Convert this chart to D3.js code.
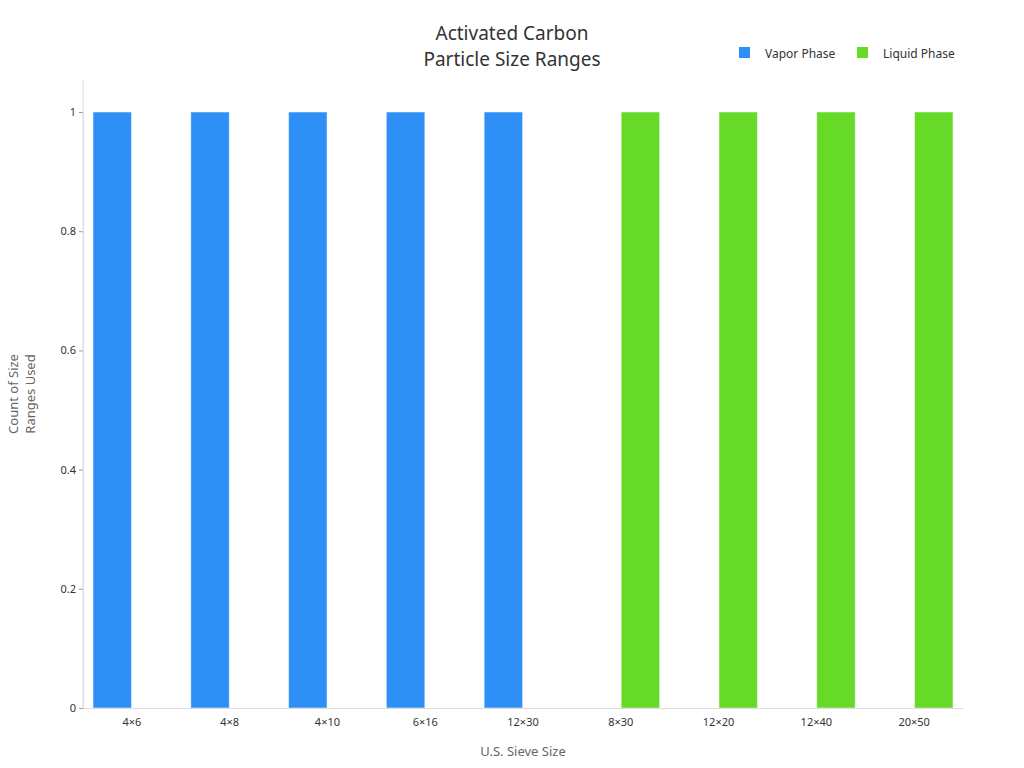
<!DOCTYPE html><html><head><meta charset="utf-8"><script src="https://cdn.jsdelivr.net/npm/d3@7"></script>
<style>body{margin:0;background:#fff;font-family:"Noto Sans","DejaVu Sans",sans-serif}</style></head><body><svg width="1024" height="768"></svg><script>
const categories=["4×6","4×8","4×10","6×16","12×30","8×30","12×20","12×40","20×50"];
const seriesNames=["Vapor Phase","Liquid Phase"];
const vapor=[1,1,1,1,1,0,0,0,0];
const liquid=[0,0,0,0,0,1,1,1,1];
const colors=["#2e90f7","#66da26"];
const yTicks=[0,0.2,0.4,0.6,0.8,1];
const svg=d3.select("svg");
const L=83,R=963,T=112,B=708;
const x=d3.scaleBand().domain(categories).range([L,R]);
const x1=d3.scaleBand().domain(seriesNames).range([10,x.bandwidth()-10]).paddingInner(0.02);
const y=d3.scaleLinear().domain([0,1]).range([B,T]);
const vals=[vapor,liquid];
categories.forEach((c,i)=>{seriesNames.forEach((s,j)=>{const v=vals[j][i];if(!v)return;
svg.append("rect").attr("x",x(c)+x1(s)).attr("y",y(v)).attr("width",x1.bandwidth()).attr("height",y(0)-y(v)).attr("fill",colors[j]).attr("stroke","#ffffff").attr("stroke-opacity",0.5);});});
const ya=svg.append("g").attr("transform",`translate(${L},0)`).call(d3.axisLeft(y).tickValues(yTicks).tickFormat(d=>d===0||d===1?d:d3.format(".1f")(d)).tickSize(4));
ya.select(".domain").attr("stroke","#ddd");ya.selectAll(".tick line").attr("stroke","#999");
ya.selectAll("text").attr("font-size",11).attr("fill","#333").attr("font-family","Noto Sans");
svg.append("line").attr("x1",L).attr("x2",L).attr("y1",80).attr("y2",B).attr("stroke","#ddd");
const xa=svg.append("g").attr("transform",`translate(0,${B})`).call(d3.axisBottom(x).tickSize(0).tickPadding(10));
xa.select(".domain").attr("stroke","#ddd");xa.selectAll("text").attr("font-size",11).attr("fill","#333").attr("font-family","Noto Sans");
svg.append("text").attr("x",512).attr("y",40).attr("text-anchor","middle").attr("font-size",19).attr("fill","#333").text("Activated Carbon");
svg.append("text").attr("x",512).attr("y",66).attr("text-anchor","middle").attr("font-size",19).attr("fill","#333").text("Particle Size Ranges");
svg.append("text").attr("x",523).attr("y",756).attr("text-anchor","middle").attr("font-size",13).attr("fill","#666").text("U.S. Sieve Size");
const yl=svg.append("text").attr("transform","translate(0,394) rotate(-90)").attr("text-anchor","middle").attr("font-size",13).attr("fill","#666");
yl.append("tspan").attr("x",0).attr("y",18).text("Count of Size");yl.append("tspan").attr("x",0).attr("y",35).text("Ranges Used");
const lg=[[739,"Vapor Phase"],[857,"Liquid Phase"]];
lg.forEach(([lx,t],j)=>{svg.append("rect").attr("x",lx).attr("y",47).attr("width",11).attr("height",11).attr("fill",colors[j]);
svg.append("text").attr("x",lx+26).attr("y",58).attr("font-size",12).attr("fill","#333").text(t);});
</script></body></html>
